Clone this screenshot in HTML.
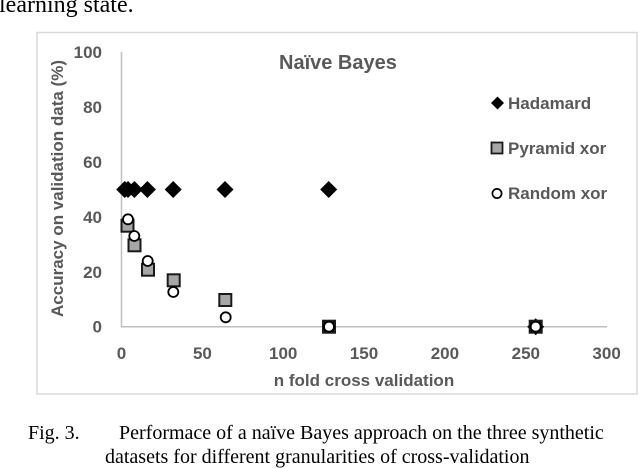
<!DOCTYPE html>
<html><head><meta charset="utf-8"><style>
html,body{margin:0;padding:0;background:#fff;}
svg{display:block;}
</style></head><body>
<svg width="640" height="468" viewBox="0 0 640 468" xmlns="http://www.w3.org/2000/svg">
<rect width="640" height="468" fill="#fff"/>
<text x="-1" y="12" font-family="Liberation Serif, serif" font-size="24" fill="#000">learning state.</text>
<rect x="37" y="32.5" width="600" height="361.5" fill="#fff" stroke="#d9d9d9" stroke-width="1.5"/>
<line x1="121.5" y1="52" x2="121.5" y2="327" stroke="#bfbfbf" stroke-width="1.5"/>
<line x1="121" y1="326.7" x2="607" y2="326.7" stroke="#bfbfbf" stroke-width="1.5"/>
<g font-family="Liberation Sans, sans-serif" font-weight="bold" font-size="17" fill="#595959">
<text x="279" y="69" font-size="20">Naïve Bayes</text>
<g text-anchor="end">
<text x="102" y="332.7">0</text>
<text x="102" y="277.8">20</text>
<text x="102" y="222.8">40</text>
<text x="102" y="167.8">60</text>
<text x="102" y="112.9">80</text>
<text x="102" y="57.9">100</text>
</g>
<g text-anchor="middle">
<text x="121.5" y="359">0</text>
<text x="202.4" y="359">50</text>
<text x="283.2" y="359">100</text>
<text x="364" y="359">150</text>
<text x="444.9" y="359">200</text>
<text x="525.8" y="359">250</text>
<text x="606.6" y="359">300</text>
<text x="364" y="386">n fold cross validation</text>
<text transform="translate(63,188.5) rotate(-90)">Accuracy on validation data (%)</text>
</g>
<text x="508" y="109">Hadamard</text>
<text x="508" y="154">Pyramid xor</text>
<text x="508" y="199">Random xor</text>
</g>
<!-- legend markers -->
<path d="M497.5,96.5 L504,103 L497.5,109.5 L491,103 Z" fill="#000"/>
<rect x="491.5" y="142.5" width="11" height="11" fill="#a6a6a6" stroke="#1a1a1a" stroke-width="1.8"/>
<circle cx="497" cy="193.5" r="4.6" fill="#fff" stroke="#000" stroke-width="1.7"/>
<!-- diamonds -->
<g fill="#000">
<path d="M124.7,181 l8.5,8.5 l-8.5,8.5 l-8.5,-8.5 Z"/>
<path d="M128,181 l8.5,8.5 l-8.5,8.5 l-8.5,-8.5 Z"/>
<path d="M134.4,181 l8.5,8.5 l-8.5,8.5 l-8.5,-8.5 Z"/>
<path d="M147.4,181 l8.5,8.5 l-8.5,8.5 l-8.5,-8.5 Z"/>
<path d="M173.2,181 l8.5,8.5 l-8.5,8.5 l-8.5,-8.5 Z"/>
<path d="M225,181 l8.5,8.5 l-8.5,8.5 l-8.5,-8.5 Z"/>
<path d="M328.7,181 l8.5,8.5 l-8.5,8.5 l-8.5,-8.5 Z"/>
<path d="M535.7,318.2 l8.5,8.5 l-8.5,8.5 l-8.5,-8.5 Z"/>
</g>
<!-- squares -->
<g fill="#a6a6a6" stroke="#1a1a1a" stroke-width="2">
<rect x="121.5" y="219.7" width="12" height="12"/>
<rect x="128.5" y="239.3" width="12" height="12"/>
<rect x="142" y="263.7" width="12" height="12"/>
<rect x="167.7" y="274.3" width="12" height="12"/>
<rect x="219.3" y="294" width="12" height="12"/>
<rect x="323" y="320.7" width="12" height="12" fill="#000"/>
<rect x="529.7" y="320.7" width="12" height="12" fill="#000"/>
</g>
<!-- circles -->
<g fill="#fff" stroke="#000" stroke-width="1.8">
<circle cx="128" cy="219.3" r="5"/>
<circle cx="134.3" cy="236" r="5"/>
<circle cx="147.7" cy="261" r="5"/>
<circle cx="173.3" cy="292" r="5"/>
<circle cx="225.7" cy="317.3" r="5"/>
<circle cx="329" cy="326.7" r="5"/>
<circle cx="535.7" cy="326.7" r="5"/>
</g>
<g font-family="Liberation Serif, serif" font-size="20" fill="#000">
<text x="28" y="439">Fig. 3.</text>
<text x="119" y="439">Performace of a naïve Bayes approach on the three synthetic</text>
<text x="105" y="463">datasets for different granularities of cross-validation</text>
</g>
</svg>
</body></html>
